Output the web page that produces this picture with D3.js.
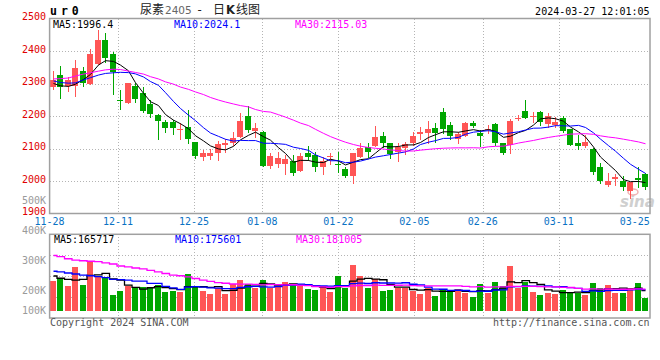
<!DOCTYPE html>
<html><head><meta charset="utf-8">
<script src="https://cdn.jsdelivr.net/npm/d3@7"></script>
<style>body{margin:0;background:#fff}svg{display:block}</style>
</head><body><svg id="c" width="660" height="360"></svg>
<script>
// ---------------- data ----------------
const dates = ["11-28","11-29","11-30","12-01","12-04","12-05","12-06","12-07","12-08","12-11",
"12-12","12-13","12-14","12-15","12-18","12-19","12-20","12-21","12-22","12-25",
"12-26","12-27","12-28","12-29","01-02","01-03","01-04","01-05","01-08","01-09",
"01-10","01-11","01-12","01-15","01-16","01-17","01-18","01-19","01-22","01-23",
"01-24","01-25","01-26","01-29","01-30","01-31","02-01","02-02","02-05","02-06",
"02-07","02-08","02-19","02-20","02-21","02-22","02-23","02-26","02-27","02-28",
"02-29","03-01","03-04","03-05","03-06","03-07","03-08","03-11","03-12","03-13",
"03-14","03-15","03-18","03-19","03-20","03-21","03-22","03-25","03-26","03-27"];
const open = [2290,2326,2292,2292,2338,2298,2359,2434,2390,2249,
2241,2292,2272,2237,2203,2182,2182,2158,2167,2121,
2075,2078,2085,2110,2116,2134,2200,2155,2150,2047,
2052,2052,2062,2032,2085,2080,2044,2073,2051,2036,
2015,2073,2106,2108,2138,2118,2090,2101,2116,2145,
2149,2162,2213,2172,2128,2138,2179,2149,2158,2175,
2116,2111,2192,2216,2199,2213,2175,2172,2193,2159,
2118,2108,2098,2044,1988,2006,2001,1970,2008,2022];
const high = [2338,2354,2321,2372,2352,2405,2465,2454,2398,2279,
2303,2301,2288,2249,2206,2188,2188,2177,2218,2121,
2095,2098,2124,2128,2151,2208,2230,2179,2155,2085,
2090,2080,2080,2085,2108,2090,2075,2087,2090,2044,
2087,2118,2118,2169,2152,2118,2116,2121,2152,2167,
2186,2178,2224,2182,2152,2182,2186,2157,2172,2179,
2116,2191,2203,2249,2213,2216,2208,2198,2200,2159,
2142,2142,2101,2056,2026,2022,2015,1998,2044,2026];
const low = [2283,2256,2277,2262,2292,2298,2359,2365,2267,2222,
2241,2244,2213,2196,2130,2150,2144,2130,2118,2070,
2064,2068,2065,2088,2110,2134,2152,2136,2047,2041,
2044,2022,2018,2031,2065,2032,2022,2051,2029,2011,
1995,2073,2073,2108,2106,2070,2063,2083,2111,2128,
2116,2121,2147,2128,2116,2138,2165,2108,2147,2111,
2082,2087,2188,2193,2182,2172,2165,2167,2152,2111,
2098,2106,2022,1995,1985,1988,1972,1947,1981,1974];
const close = [2311,2290,2311,2347,2302,2390,2434,2378,2336,2245,
2302,2251,2216,2206,2186,2164,2164,2161,2130,2077,
2085,2087,2114,2116,2131,2185,2157,2162,2047,2077,
2070,2068,2026,2077,2075,2044,2062,2077,2049,2015,
2087,2101,2090,2136,2116,2082,2106,2114,2138,2152,
2159,2149,2159,2138,2145,2179,2169,2138,2160,2118,
2087,2186,2194,2193,2201,2182,2200,2182,2155,2111,
2108,2121,2029,2000,2000,2011,1981,1998,2003,1982];
const volume = [252000,280000,210000,372000,218000,420000,294000,280000,134000,168000,
210000,204000,204000,191000,218000,162000,168000,162000,311000,210000,
168000,143000,191000,143000,224000,260000,224000,196000,260000,196000,
210000,246000,227000,210000,185000,176000,210000,162000,297000,196000,
386000,294000,196000,269000,168000,176000,196000,196000,168000,143000,
196000,129000,185000,168000,185000,154000,120000,227000,154000,246000,
213000,381000,196000,241000,162000,134000,154000,143000,176000,162000,
154000,134000,238000,196000,218000,154000,154000,196000,238000,112000];
// moving-average values for the first days (window reaches before the chart)
const ma5Head = [2300,2293,2291,2298];
const ma10Head = [2308,2303,2301,2302,2311,2318,2326,2331,2333];
const ma30Head = [2314,2315,2317,2323,2329,2333,2338,2342,2344,2343,2338,2334,2329,2321,2314,
2305,2298,2289,2282,2274,2266,2257,2249,2243,2237,2232,2228,2220,2214];
const vma5Head = [294000,275000,265000,260000];
const vma10Head = [334000,329000,319000,311000,301000,296000,288000,281000,265000];
const vma30Head = [466000,456000,439000,428000,422000,418000,415000,405000,395000,378000,370000,
361000,354000,342000,328000,315000,302000,296000,286000,273000,260000,249000,239000,233000,
227000,226000,225000,223000,220000];
const priceTicks = [2500,2400,2300,2200,2100,2000,1900];
const volTicks = [500000,400000,300000,200000,100000];
const volTickLabels = ["500K","400K","300K","200K","100K"];
const dateTicks = ["11-28","12-11","12-25","01-08","01-22","02-05","02-26","03-11","03-25"];
const priceLegend = ["MA5:1996.4","MA10:2024.1","MA30:2115.03"];
const volLegend = ["MA5:165717","MA10:175601","MA30:181005"];
const symbol = "ur0";
const stamp = "2024-03-27 12:01:05";

// ---------------- layout ----------------
const W = 660, H = 360;
const L = 49.6, R = 650, PT = 18.5, PB = 213.5, VT = 234.3, VB = 318, VBASE = 311;
const MONO = "'DejaVu Sans Mono', 'Liberation Mono', monospace";
const CJK = "'Noto Sans CJK SC', sans-serif";
const UP = "#ff5555", DOWN = "#00a600", GRID = "#b4b4b4", BORDER = "#a0a0a0";
const MACOL = ["#000000", "#0000ff", "#ff00ff"];

const svg = d3.select("#c");
const n = dates.length;
const idx = d3.range(n);
const xb = d3.scaleBand().domain(idx).range([L, R]);
const gx = d3.scalePoint().domain(idx).range([L, R]);
const x0 = i => Math.round(xb(i));
const xc = i => x0(i) + 3;
const y = d3.scaleLinear().domain([1900, 2500]).range([PB, PT]);
const yv = d3.scaleLinear().domain([0, 400000]).range([VBASE, VBASE - 400 / 8.4]);
const yvLabel = d3.scaleLinear().domain([200000, 500000]).range([290.3, 200]);

function movAvg(arr, k, head) {
  return arr.map((v, i) => i < k - 1 ? head[i] : d3.mean(arr.slice(i - k + 1, i + 1)));
}
const ma = [movAvg(close, 5, ma5Head), movAvg(close, 10, ma10Head), movAvg(close, 30, ma30Head)];
const vma = [movAvg(volume, 5, vma5Head), movAvg(volume, 10, vma10Head), movAvg(volume, 30, vma30Head)];

svg.append("rect").attr("width", W).attr("height", H).attr("fill", "#fff");

// clip
const defs = svg.append("defs");
defs.append("clipPath").attr("id", "cp").append("rect")
  .attr("x", L).attr("y", PT).attr("width", R - L).attr("height", PB - PT);
defs.append("clipPath").attr("id", "cv").append("rect")
  .attr("x", L).attr("y", VT).attr("width", R - L).attr("height", VB - VT);

// ---------------- grids ----------------
const grid = svg.append("g").attr("stroke", GRID).attr("stroke-dasharray", "1,2")
  .attr("shape-rendering", "crispEdges");
priceTicks.filter(t => t < 2500 && t > 1900).forEach(t => {
  const yy = Math.round(y(t)) + 0.5;
  grid.append("line").attr("x1", L).attr("x2", R).attr("y1", yy).attr("y2", yy);
});
[1, 2, 3].forEach(k => {
  const yy = Math.round(VT + k * (VB - VT) / 4) + 0.5;
  grid.append("line").attr("x1", L).attr("x2", R).attr("y1", yy).attr("y2", yy);
});
dateTicks.slice(1, -1).forEach(d => {
  const xx = Math.round(gx(dates.indexOf(d))) + 0.5;
  grid.append("line").attr("x1", xx).attr("x2", xx).attr("y1", PT).attr("y2", PB);
  grid.append("line").attr("x1", xx).attr("x2", xx).attr("y1", VT).attr("y2", VB);
});

// ---------------- watermark ----------------
const wm = svg.append("g");
wm.append("text").attr("x", 620).attr("y", 207).attr("font-family", "'DejaVu Sans', sans-serif")
  .attr("font-size", 15).attr("font-weight", "bold").attr("font-style", "italic")
  .attr("fill", "#cfcfcf").text("sina");
wm.append("ellipse").attr("cx", 633).attr("cy", 192).attr("rx", 5).attr("ry", 3)
  .attr("fill", "none").attr("stroke", "#f0b4b4").attr("stroke-width", 1.5);

// ---------------- candles ----------------
const cg = svg.append("g").attr("clip-path", "url(#cp)").attr("shape-rendering", "crispEdges");
idx.forEach(i => {
  const up = close[i] >= open[i];
  const col = up ? UP : DOWN;
  cg.append("line").attr("x1", xc(i) + 0.5).attr("x2", xc(i) + 0.5)
    .attr("y1", Math.round(y(high[i]))).attr("y2", Math.round(y(low[i])) + 1)
    .attr("stroke", col);
  const top = Math.round(y(Math.max(open[i], close[i])));
  const bot = Math.round(y(Math.min(open[i], close[i])));
  cg.append("rect").attr("x", x0(i)).attr("y", top).attr("width", 6)
    .attr("height", Math.max(1, bot - top)).attr("fill", col);
});

// price MA lines
const pline = d3.line().x((v, i) => xc(i) + 0.5).y(v => y(v));
ma.forEach((s, k) => {
  svg.append("path").attr("clip-path", "url(#cp)").attr("d", pline(s))
    .attr("fill", "none").attr("stroke", MACOL[k]).attr("stroke-width", 1);
});

// ---------------- volume ----------------
const vg = svg.append("g").attr("clip-path", "url(#cv)").attr("shape-rendering", "crispEdges");
idx.forEach(i => {
  const top = Math.round(yv(volume[i]));
  vg.append("rect").attr("x", x0(i)).attr("y", top).attr("width", 6)
    .attr("height", VBASE - top).attr("fill", close[i] >= open[i] ? UP : DOWN);
});
const vline = d3.line().x((v, i) => xc(i) + 0.5).y(v => yv(v)).curve(d3.curveStep);
vma.forEach((s, k) => {
  svg.append("path").attr("clip-path", "url(#cv)").attr("d", vline(s))
    .attr("fill", "none").attr("stroke", MACOL[k]).attr("stroke-width", 1.3);
});

// ---------------- borders ----------------
svg.append("rect").attr("x", L).attr("y", PT).attr("width", R - L).attr("height", PB - PT)
  .attr("fill", "none").attr("stroke", BORDER).attr("stroke-width", 1.5);
svg.append("rect").attr("x", L).attr("y", VT).attr("width", R - L).attr("height", VB - VT)
  .attr("fill", "none").attr("stroke", BORDER).attr("stroke-width", 1.5);

// ---------------- texts ----------------
const txt = (x, yy, s, o = {}) => svg.append("text").attr("x", x).attr("y", yy)
  .attr("font-family", o.ff || MONO).attr("font-size", o.fs || 10)
  .attr("fill", o.fill || "#000").attr("text-anchor", o.anchor || "start")
  .attr("font-weight", o.fw || "normal").text(s);

priceTicks.forEach(t => txt(46, y(t) + 1.8, String(t), { fill: "#e00000", anchor: "end" }));
volTicks.forEach((v, k) => txt(46, Math.min(yvLabel(v), VB - 7.7) + 3.7, volTickLabels[k],
  { fill: "#9a9a9a", anchor: "end" }));
dateTicks.forEach(d => txt(gx(dates.indexOf(d)), 225, d, { fill: "#0a72c4", anchor: "middle" }));

const lx = [53, 174, 295];
priceLegend.forEach((s, k) => txt(lx[k], 27.5, s, { fill: MACOL[k] }));
volLegend.forEach((s, k) => txt(lx[k] + 1, 242.5, s, { fill: MACOL[k] }));

// header
svg.append("text").attr("x", 50).attr("y", 15).attr("font-family", MONO).attr("font-size", 11.5)
  .attr("font-weight", "bold").attr("letter-spacing", 4).attr("fill", "#000").text(symbol);
txt(140, 14, "尿素", { ff: CJK, fs: 12, fill: "#222" });
txt(165, 14, "2405", { ff: "'DejaVu Sans', sans-serif", fs: 10.5, fill: "#666" });
txt(196, 14, "-", { fs: 12, fill: "#222" });
txt(213, 14, "日", { ff: CJK, fs: 12, fill: "#222" });
txt(226, 14, "K", { ff: "'DejaVu Sans', sans-serif", fs: 11.5, fw: "bold", fill: "#222" });
txt(236, 14, "线图", { ff: CJK, fs: 12, fill: "#222" });
txt(649.5, 15, stamp, { anchor: "end" });

txt(50, 326, "Copyright 2024 SINA.COM", { fill: "#555" });
txt(649.5, 326, "http://finance.sina.com.cn", { fill: "#555", anchor: "end" });
</script></body></html>
